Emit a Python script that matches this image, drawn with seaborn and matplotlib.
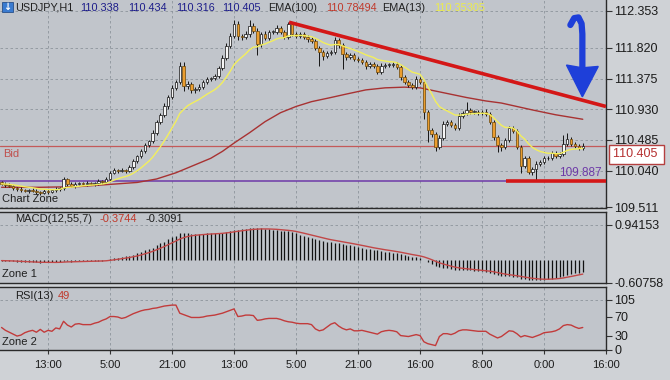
import matplotlib
matplotlib.use("Agg")
import matplotlib.pyplot as plt
import matplotlib.transforms as mtransforms
from matplotlib.patches import Polygon, Rectangle
import seaborn as sns
import numpy as np
import pandas as pd

# ---------------------------------------------------------
# DATA (USDJPY H1)
# ---------------------------------------------------------
first_open = 109.87
closes = [
    109.85, 109.83, 109.82, 109.79, 109.77, 109.76, 109.75, 109.76, 109.75, 109.73,
    109.72, 109.75, 109.73, 109.76, 109.77, 109.79, 109.92, 109.85, 109.82, 109.85,
    109.86, 109.85, 109.86, 109.85, 109.86, 109.89, 109.88, 109.92, 110.01, 110.05,
    110.04, 110.05, 110.04, 110.09, 110.18, 110.25, 110.33, 110.41, 110.47, 110.59,
    110.75, 110.85, 110.98, 111.11, 111.24, 111.33, 111.56, 111.27, 111.30, 111.21,
    111.22, 111.25, 111.33, 111.37, 111.38, 111.41, 111.53, 111.67, 111.85, 111.99,
    112.16, 111.99, 111.98, 112.02, 112.14, 112.06, 111.87, 112.02, 111.96, 112.05,
    112.05, 112.11, 112.05, 111.98, 112.16, 112.02, 111.99, 112.02, 111.98, 111.95,
    111.92, 111.82, 111.76, 111.70, 111.74, 111.76, 111.93, 111.86, 111.73, 111.69,
    111.72, 111.66, 111.64, 111.61, 111.56, 111.59, 111.56, 111.47, 111.56, 111.57,
    111.57, 111.59, 111.54, 111.40, 111.33, 111.28, 111.25, 111.37, 111.33, 110.89,
    110.63, 110.57, 110.38, 110.51, 110.72, 110.75, 110.70, 110.66, 110.83, 110.88,
    110.92, 110.89, 110.89, 110.88, 110.89, 110.86, 110.75, 110.53, 110.41, 110.38,
    110.48, 110.66, 110.61, 110.38, 110.11, 110.22, 110.02, 110.06, 110.14, 110.17,
    110.22, 110.22, 110.30, 110.25, 110.28, 110.43, 110.50, 110.43, 110.40, 110.37,
    110.405,
]
upper_wick_pips = [
    2, 2, 3, 2, 2, 3, 2, 2, 3, 2,
    2, 3, 2, 2, 3, 2, 3, 2, 3, 2,
    2, 2, 3, 2, 2, 3, 2, 3, 3, 3,
    2, 3, 2, 3, 3, 2, 3, 3, 2, 4,
    3, 3, 4, 3, 4, 3, 6, 5, 4, 3,
    3, 4, 3, 3, 2, 3, 3, 4, 4, 5,
    6, 5, 3, 4, 8, 4, 4, 3, 4, 3,
    3, 4, 3, 3, 3, 3, 3, 3, 3, 3,
    3, 3, 3, 3, 3, 3, 4, 3, 3, 3,
    3, 3, 3, 3, 3, 3, 3, 3, 4, 3,
    3, 3, 3, 3, 3, 3, 3, 4, 3, 3,
    3, 3, 3, 4, 4, 3, 3, 3, 4, 3,
    11, 3, 3, 3, 3, 4, 3, 3, 3, 3,
    3, 3, 3, 4, 3, 4, 3, 3, 4, 3,
    3, 3, 3, 3, 3, 12, 9, 3, 3, 3,
    3,
]
lower_wick_pips = [
    2, 3, 2, 3, 2, 3, 2, 3, 2, 3,
    3, 2, 3, 2, 3, 2, 3, 3, 2, 3,
    2, 2, 3, 2, 3, 2, 3, 2, 3, 2,
    3, 2, 3, 2, 3, 3, 2, 3, 3, 3,
    3, 3, 3, 4, 3, 3, 4, 7, 4, 5,
    4, 3, 3, 3, 3, 3, 3, 3, 3, 4,
    3, 6, 4, 3, 4, 3, 15, 4, 3, 3,
    3, 3, 3, 3, 3, 3, 3, 3, 3, 4,
    3, 3, 20, 5, 3, 3, 3, 4, 22, 4,
    3, 3, 3, 3, 4, 3, 3, 3, 3, 3,
    3, 3, 3, 4, 3, 3, 3, 3, 3, 10,
    18, 4, 5, 3, 3, 3, 3, 3, 3, 3,
    3, 3, 3, 3, 3, 3, 3, 4, 10, 5,
    3, 3, 3, 3, 10, 3, 3, 4, 16, 3,
    3, 3, 3, 3, 3, 3, 3, 3, 3, 3,
    3,
]

# EMA(100) read at a set of bars (history before the window is unknown)
ema100_bars = [0, 10, 20, 25, 30, 35, 40, 45, 48, 51, 54, 57, 60, 64, 68, 72, 76, 80, 85,
               89, 94, 99, 104, 108, 114, 120, 125, 129, 133, 137, 143, 150]
ema100_vals = [109.80, 109.80, 109.81, 109.83, 109.85, 109.87, 109.92, 110.01, 110.08, 110.15,
               110.22, 110.32, 110.44, 110.59, 110.75, 110.88, 110.97, 111.04, 111.10,
               111.15, 111.21, 111.24, 111.25, 111.24, 111.17, 111.10, 111.05, 111.02,
               110.97, 110.92, 110.85, 110.785]

macd_hist = [
    -0.01, -0.02, -0.03, -0.03, -0.04, -0.05, -0.05, -0.06, -0.06, -0.06,
    -0.07, -0.06, -0.06, -0.06, -0.06, -0.05, -0.03, -0.03, -0.04, -0.03,
    -0.03, -0.03, -0.03, -0.02, -0.02, -0.01, -0.01, 0.00, 0.03, 0.05,
    0.07, 0.09, 0.10, 0.12, 0.15, 0.18, 0.22, 0.26, 0.30, 0.34,
    0.40, 0.45, 0.50, 0.56, 0.62, 0.66, 0.72, 0.72, 0.72, 0.71,
    0.71, 0.71, 0.71, 0.72, 0.72, 0.72, 0.73, 0.74, 0.76, 0.78,
    0.81, 0.82, 0.83, 0.84, 0.85, 0.86, 0.85, 0.85, 0.84, 0.83,
    0.82, 0.81, 0.79, 0.78, 0.77, 0.75, 0.72, 0.68, 0.65, 0.62,
    0.60, 0.57, 0.54, 0.52, 0.50, 0.48, 0.47, 0.46, 0.44, 0.42,
    0.40, 0.38, 0.36, 0.34, 0.31, 0.29, 0.27, 0.26, 0.24, 0.23,
    0.22, 0.20, 0.18, 0.16, 0.13, 0.11, 0.09, 0.08, 0.06, 0.01,
    -0.05, -0.10, -0.16, -0.19, -0.20, -0.22, -0.24, -0.26, -0.26, -0.26,
    -0.26, -0.27, -0.28, -0.29, -0.30, -0.31, -0.33, -0.36, -0.39, -0.42,
    -0.43, -0.43, -0.44, -0.46, -0.49, -0.50, -0.52, -0.53, -0.53, -0.53,
    -0.52, -0.51, -0.49, -0.48, -0.46, -0.43, -0.40, -0.37, -0.35, -0.33,
    -0.3091,
]

rsi = [
    47, 41, 37, 33, 29, 31, 36, 39, 41, 37,
    43, 37, 41, 39, 46, 44, 60, 52, 48, 54,
    55, 53, 53, 53, 56, 58, 62, 65, 70, 70,
    69, 66, 68, 72, 76, 79, 82, 84, 85, 87,
    88, 90, 92, 93, 94, 94, 77, 74, 71, 68,
    68, 68, 69, 71, 72, 73, 75, 77, 80, 83,
    86, 70, 71, 73, 73, 72, 62, 63, 65, 66,
    66, 66, 64, 61, 59, 58, 56, 55, 55, 55,
    53, 44, 40, 42, 48, 54, 57, 50, 45, 42,
    44, 40, 40, 41, 39, 37, 35, 33, 38, 40,
    41, 40, 38, 30, 29, 28, 30, 32, 30, 17,
    13, 11, 9, 28, 34, 34, 32, 35, 40, 42,
    42, 41, 40, 39, 39, 39, 33, 29, 25, 28,
    34, 40, 39, 34, 27, 30, 28, 26, 29, 32,
    36, 37, 38, 40, 44, 51, 53, 52, 48, 45,
    47,
]

time_tick_bars = [12, 28, 44, 60, 76, 92, 108, 124, 140, 156]
time_tick_labels = ["13:00", "5:00", "21:00", "13:00", "5:00", "21:00", "16:00", "8:00", "0:00", "16:00"]
price_ticks = [112.353, 111.820, 111.375, 110.930, 110.485, 110.040, 109.511]
macd_ticks = [0.94153, -0.60758]
rsi_ticks = [105, 70, 30, 0]

bid_price = 110.405
level_price = 109.887
# hand drawn annotations (bar, price)
trend_bars, trend_prices = [74.2, 156.0], [112.19, 110.97]
support_bars, support_prices = [130.2, 156.0], [109.885, 109.885]
arrow_stem_bars = [146.8, 147.8, 148.9, 149.7, 149.9, 149.9]
arrow_stem_prices = [112.15, 112.25, 112.26, 112.17, 112.02, 111.52]
arrow_head = [(145.8, 111.57), (149.9, 111.53), (154.0, 111.55), (149.9, 111.11)]

# ---------------------------------------------------------
# PREP
# ---------------------------------------------------------
df = pd.DataFrame({"bar": np.arange(len(closes)), "close": closes})
df["open"] = df["close"].shift(1).fillna(first_open)
df["top"] = df[["open", "close"]].max(axis=1)
df["bot"] = df[["open", "close"]].min(axis=1)
df["high"] = df["top"] + np.array(upper_wick_pips) / 100
df["low"] = df["bot"] - np.array(lower_wick_pips) / 100
df["ema13"] = df["close"].ewm(span=13, adjust=False).mean()
df["macd"] = macd_hist
df["signal"] = df["macd"].ewm(span=7, adjust=False).mean()
df["rsi"] = rsi
bull = (df["close"] >= df["open"]).to_numpy()

# ---------------------------------------------------------
# PLOTTING
# ---------------------------------------------------------
sns.set_theme(style="dark")
plt.rcParams['font.family'] = ['Liberation Sans', 'DejaVu Sans']

BG_FIG = "#cfd2d6"
BG_AX = "#c1c5cb"
GRID = "#8d949c"
INK = "#1c1c1c"

fig = plt.figure(figsize=(6.7, 3.8), dpi=100)
fig.patch.set_facecolor(BG_FIG)
W = 606 / 670
ax_p = fig.add_axes([0, 1 - 208 / 380, W, 208 / 380])
ax_m = fig.add_axes([0, 1 - 283 / 380, W, 71 / 380], sharex=ax_p)
ax_r = fig.add_axes([0, 1 - 350 / 380, W, 63 / 380], sharex=ax_p)

for ax in (ax_p, ax_m, ax_r):
    ax.set_facecolor(BG_AX)
    ax.grid(False)
    for side, sp in ax.spines.items():
        sp.set_color("#2a2a2a")
        sp.set_linewidth(1.0)
    ax.spines["left"].set_visible(False)
    ax.yaxis.tick_right()
    ax.tick_params(axis="y", direction="out", length=4, width=0.8, color="#333333",
                   labelsize=9, pad=2, labelcolor=INK)
    for xb in time_tick_bars:
        ax.axvline(xb, color=GRID, lw=0.6, ls=(0, (3, 3)), zorder=0)
ax_p.spines["top"].set_visible(False)

ax_p.set_xlim(-0.4, 156)

# --- price panel ---
for yv in price_ticks:
    ax_p.axhline(yv, color=GRID, lw=0.6, ls=(0, (3, 3)), zorder=0)

ax_p.axhline(bid_price, color="#c45a5a", lw=0.9, zorder=2)
ax_p.axhline(level_price, color="#6e3aa8", lw=1.1, zorder=2)

sns.lineplot(x=ema100_bars, y=ema100_vals, ax=ax_p, color="#a83232", linewidth=1.0, zorder=2)

ax_p.vlines(df["bar"], df["low"], df["high"], color="#151515", lw=0.7, zorder=3)
body = (df["top"] - df["bot"]).clip(lower=0.008)
ax_p.bar(df["bar"], body, bottom=df["bot"], width=0.64,
         color=np.where(bull, "#f6f6f6", "#eb9d2e"),
         edgecolor=np.where(bull, "#111111", "#6b4608"), linewidth=0.5, zorder=4)

sns.lineplot(data=df, x="bar", y="ema13", ax=ax_p, color="#f3ef5c", linewidth=1.0, zorder=5)

ax_p.plot(support_bars, support_prices, color="#d41717", lw=2.6, zorder=6, solid_capstyle="butt")
ax_p.plot(trend_bars, trend_prices, color="#d41717", lw=2.6, zorder=6, solid_capstyle="butt")
ax_p.plot(arrow_stem_bars, arrow_stem_prices, color="#1e3fd9", lw=4.5, zorder=7,
          solid_capstyle="round", solid_joinstyle="round")
ax_p.add_patch(Polygon(arrow_head, closed=True, color="#1e3fd9", zorder=7))

ax_p.set_ylim(109.50, 112.512)
ax_p.set_yticks(price_ticks)
ax_p.set_yticklabels([f"{v:.3f}" for v in price_ticks])
ax_p.tick_params(axis="x", bottom=False, labelbottom=False)
ax_p.set_xlabel("")
ax_p.set_ylabel("")

# header line
hdr = [(15, "USDJPY,H1", "#202020"), (80, "110.338", "#1d1d8a"), (128, "110.434", "#1d1d8a"),
       (176, "110.316", "#1d1d8a"), (222, "110.405", "#1d1d8a"), (268, "EMA(100)", "#202020"),
       (326, "110.78494", "#c0392b"), (382, "EMA(13)", "#202020"), (434, "110.35305", "#ecec4a")]
for px, txt, col in hdr:
    ax_p.text(px / 606, 0.962, txt, transform=ax_p.transAxes, fontsize=7.8, color=col,
              va="center", ha="left", zorder=8)
ax_p.add_patch(Rectangle((2 / 606, 0.94), 11 / 606, 0.052, transform=ax_p.transAxes,
                         facecolor="#3a7bd0", edgecolor="#28508a", lw=0.6, zorder=8))
ax_p.text(7.5 / 606, 0.966, "\u2193", transform=ax_p.transAxes, fontsize=7, color="white",
          ha="center", va="center", family="DejaVu Sans", fontweight="bold", zorder=9)

blend_p = mtransforms.blended_transform_factory(ax_p.transAxes, ax_p.transData)
ax_p.annotate("Bid", xy=(0, bid_price), xycoords=blend_p, xytext=(2, -6), textcoords="offset points",
              fontsize=8, color="#c0504d", ha="left", va="center")
ax_p.annotate("109.887", xy=(1, level_price), xycoords=blend_p, xytext=(-3, 6),
              textcoords="offset points", fontsize=8.5, color="#6e3aa8", ha="right", va="center")
ax_p.annotate("110.405 ", xy=(1, bid_price), xycoords=blend_p, xytext=(5, -6.3),
              textcoords="offset points", fontsize=9, color="#b52f2f", ha="left", va="center",
              annotation_clip=False,
              bbox=dict(boxstyle="square,pad=0.28", fc="white", ec="#b54040", lw=1.0))
ax_p.text(0.003, 0.041, "Chart Zone", transform=ax_p.transAxes, fontsize=8, color="#202020",
          ha="left", va="center")

# --- MACD panel ---
ax_m.axhline(macd_ticks[0], color=GRID, lw=0.6, ls=(0, (3, 3)), zorder=0)
ax_m.vlines(df["bar"], 0, df["macd"], color="#111111", lw=0.9, zorder=3)
sns.lineplot(data=df, x="bar", y="signal", ax=ax_m, color="#c24747", linewidth=1.0, zorder=4)
ax_m.set_ylim(-0.609, 1.289)
ax_m.set_yticks(macd_ticks)
ax_m.set_yticklabels([f"{v:.5f}" for v in macd_ticks])
ax_m.tick_params(axis="x", bottom=False, labelbottom=False)
ax_m.set_xlabel("")
ax_m.set_ylabel("")
for px, txt, col in [(15, "MACD(12,55,7)", "#202020"), (100, "-0.3744", "#c0392b"), (145, "-0.3091", "#202020")]:
    ax_m.text(px / 606, 0.9, txt, transform=ax_m.transAxes, fontsize=8, color=col,
              ha="left", va="center")
ax_m.text(0.003, 0.12, "Zone 1", transform=ax_m.transAxes, fontsize=8, color="#202020",
          ha="left", va="center")

# --- RSI panel ---
ax_r.axhline(105, color=GRID, lw=0.6, ls=(0, (3, 3)), zorder=0)
sns.lineplot(data=df, x="bar", y="rsi", ax=ax_r, color="#c23b3b", linewidth=1.0, zorder=4)
ax_r.set_ylim(-0.3, 132)
ax_r.set_yticks(rsi_ticks)
ax_r.set_yticklabels([str(v) for v in rsi_ticks])
ax_r.set_xticks(time_tick_bars)
ax_r.set_xticklabels(time_tick_labels)
ax_r.tick_params(axis="x", bottom=True, direction="out", length=3, width=0.8, color="#333333",
                 labelsize=8, pad=4, labelcolor=INK)
ax_r.set_xlabel("")
ax_r.set_ylabel("")
for px, txt, col in [(15, "RSI(13)", "#202020"), (58, "49", "#c0392b")]:
    ax_r.text(px / 606, 0.857, txt, transform=ax_r.transAxes, fontsize=8, color=col,
              ha="left", va="center")
ax_r.text(0.003, 0.12, "Zone 2", transform=ax_r.transAxes, fontsize=8, color="#202020",
          ha="left", va="center")

ax_p.set_xlim(-0.4, 156)
fig.savefig("out.png", dpi=100, facecolor=fig.get_facecolor())
